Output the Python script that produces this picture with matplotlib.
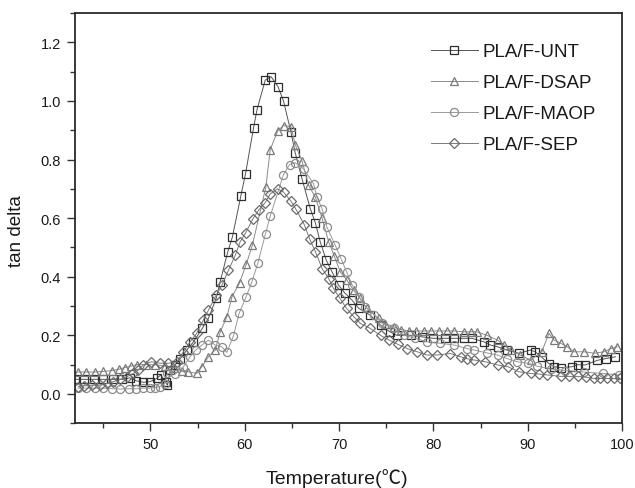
import matplotlib
matplotlib.use("Agg")
import matplotlib.pyplot as plt
from matplotlib.ticker import MultipleLocator

plt.rcParams['font.family'] = ['Liberation Sans', 'Noto Sans CJK SC', 'DejaVu Sans']

# ---- data ----
unt_x = [42.0, 43.0, 44.0, 45.0, 46.0, 47.0, 47.8, 48.5, 49.25, 49.96, 50.67, 51.1, 51.6, 51.8, 52.1, 52.6,
         53.15, 53.86, 54.56, 55.5, 56.15, 56.97, 57.39, 58.2, 58.7, 59.59, 60.08, 60.93, 61.29, 62.17, 62.78,
         63.52, 64.11, 64.9, 65.35, 66.07, 66.95, 67.48, 68.0, 68.65, 69.25, 69.95, 70.6, 71.37, 72.1, 73.3,
         74.4, 75.4, 76.15, 77.6, 78.8, 80.0, 81.2, 82.2, 83.2, 84.1, 85.35, 86.05, 86.8, 87.8, 89.06, 90.3,
         90.8, 91.5, 92.25, 92.8, 93.5, 94.7, 95.3, 96.1, 97.4, 98.3, 99.3]
unt_y = [0.05, 0.05, 0.05, 0.05, 0.05, 0.05, 0.055, 0.045, 0.04, 0.042, 0.053, 0.065, 0.04, 0.03, 0.082, 0.1,
         0.12, 0.15, 0.178, 0.224, 0.258, 0.326, 0.383, 0.485, 0.537, 0.677, 0.751, 0.908, 0.969, 1.071, 1.083,
         1.049, 1.0, 0.893, 0.823, 0.734, 0.632, 0.585, 0.519, 0.456, 0.417, 0.371, 0.345, 0.32, 0.292, 0.269,
         0.235, 0.212, 0.2, 0.2, 0.195, 0.19, 0.19, 0.19, 0.19, 0.19, 0.178, 0.167, 0.161, 0.15, 0.139, 0.15,
         0.144, 0.125, 0.104, 0.093, 0.09, 0.093, 0.1, 0.099, 0.115, 0.121, 0.127]

dsap_x = [42.3, 43.2, 44.1, 45.0, 45.9, 46.7, 47.3, 47.9, 48.6, 49.5, 50.5, 51.5, 52.5, 53.3, 54.0, 54.9,
          55.45, 56.15, 56.86, 57.4, 58.1, 58.65, 59.45, 60.15, 60.8, 62.24, 62.7, 63.52, 64.11, 64.9, 65.35,
          66.07, 66.77, 67.48, 68.2, 68.9, 69.5, 70.13, 70.8, 71.55, 72.25, 72.97, 74.2, 74.9, 75.8, 76.6,
          77.4, 78.2, 79.0, 79.8, 80.6, 81.4, 82.2, 83.2, 84.0, 84.6, 85.7, 86.8, 87.5, 88.2, 89.2, 90.3,
          91.5, 92.25, 92.8, 93.5, 94.2, 94.9, 96.0, 97.1, 98.1, 98.8, 99.5]
dsap_y = [0.075, 0.075, 0.075, 0.077, 0.08, 0.085, 0.09, 0.095, 0.1, 0.1, 0.1, 0.095, 0.09, 0.08, 0.076, 0.07,
          0.093, 0.127, 0.15, 0.212, 0.263, 0.332, 0.379, 0.442, 0.507, 0.706, 0.834, 0.899, 0.916, 0.912, 0.851,
          0.795, 0.712, 0.672, 0.6, 0.519, 0.47, 0.417, 0.39, 0.354, 0.326, 0.292, 0.258, 0.24, 0.229, 0.22,
          0.215, 0.215, 0.215, 0.215, 0.215, 0.215, 0.215, 0.212, 0.212, 0.212, 0.2, 0.184, 0.167, 0.15, 0.133, 0.116,
          0.144, 0.207, 0.184, 0.173, 0.161, 0.144, 0.144, 0.139, 0.144, 0.155, 0.161]

maop_x = [42.3, 43.2, 44.1, 45.0, 45.9, 46.8, 47.7, 48.5, 49.2, 49.9, 50.5, 51.0, 51.5, 51.8, 52.6, 53.5,
          54.2, 54.8, 55.45, 56.15, 56.86, 57.57, 58.1, 58.8, 59.4, 60.15, 60.76, 61.4, 62.2, 62.7, 64.1,
          64.75, 65.35, 66.24, 67.3, 67.65, 68.2, 68.7, 69.6, 70.2, 70.8, 71.4, 72.1, 72.8, 73.7, 74.6, 75.8,
          76.9, 78.1, 79.3, 80.7, 82.2, 83.6, 84.3, 85.7, 86.8, 87.8, 88.9, 90.0, 91.0, 92.5, 94.0, 96.0,
          98.0, 99.7]
maop_y = [0.02, 0.02, 0.02, 0.02, 0.018, 0.017, 0.018, 0.018, 0.02, 0.02, 0.022, 0.025, 0.035, 0.07, 0.067, 0.093,
          0.127, 0.15, 0.167, 0.184, 0.167, 0.161, 0.142, 0.198, 0.275, 0.332, 0.383, 0.448, 0.547, 0.607, 0.748,
          0.783, 0.789, 0.768, 0.717, 0.672, 0.632, 0.57, 0.507, 0.462, 0.417, 0.371, 0.332, 0.298, 0.27, 0.241, 0.224,
          0.2, 0.19, 0.178, 0.173, 0.167, 0.155, 0.15, 0.14, 0.133, 0.121, 0.11, 0.105, 0.095, 0.085, 0.08, 0.075,
          0.07, 0.065]

sep_x = [42.35, 43.0, 43.8, 44.65, 45.4, 46.07, 46.8, 47.5, 48.2, 48.7, 49.25, 50.1, 51.0, 51.9, 52.8, 53.5,
         54.2, 54.9, 55.6, 56.15, 56.97, 57.57, 58.27, 58.99, 59.5, 60.1, 60.87, 61.46, 62.17, 62.7, 63.48,
         64.11, 64.9, 65.43, 66.31, 66.87, 67.5, 68.2, 68.9, 69.4, 70.1, 70.8, 71.55, 72.25, 73.3, 74.4, 75.3,
         76.2, 77.2, 78.3, 79.3, 80.4, 81.8, 82.9, 83.6, 84.3, 85.5, 86.8, 87.9, 89.06, 90.3, 91.2, 92.1,
         93.5, 94.4, 95.3, 96.2, 97.0, 97.7, 98.4, 99.1, 99.8]
sep_y = [0.025, 0.028, 0.03, 0.031, 0.036, 0.042, 0.05, 0.059, 0.07, 0.082, 0.099, 0.11, 0.105, 0.105, 0.11, 0.144,
         0.178, 0.207, 0.252, 0.286, 0.337, 0.371, 0.422, 0.473, 0.519, 0.55, 0.598, 0.627, 0.653, 0.683, 0.7,
         0.689, 0.658, 0.63, 0.578, 0.53, 0.485, 0.428, 0.394, 0.36, 0.326, 0.292, 0.264, 0.241, 0.224, 0.2, 0.184,
         0.17, 0.155, 0.144, 0.133, 0.133, 0.138, 0.127, 0.12, 0.116, 0.11, 0.099, 0.093, 0.076, 0.07, 0.068, 0.065,
         0.06, 0.06, 0.06, 0.057, 0.053, 0.053, 0.053, 0.053, 0.053]

labels = ["PLA/F-UNT", "PLA/F-DSAP", "PLA/F-MAOP", "PLA/F-SEP"]
xlabel = "Temperature(\u2103)"
ylabel = "tan delta"

# ---- figure ----
fig = plt.figure(figsize=(6.35, 4.89), dpi=100)
ax = fig.add_axes([75/635, 1-424.3/489, 547/635, 410.3/489])

series = [
    (unt_x, unt_y, 's', '#2e2e2e', '#555555', 5.6),
    (dsap_x, dsap_y, '^', '#7a7a7a', '#8a8a8a', 6.2),
    (maop_x, maop_y, 'o', '#8c8c8c', '#9a9a9a', 5.8),
    (sep_x, sep_y, 'D', '#6a6a6a', '#7a7a7a', 5.2),
]
handles = []
for (xs, ys, m, mc, lc, ms), lab in zip(series, labels):
    h, = ax.plot(xs, ys, color=lc, lw=0.7, marker=m, ms=ms, mfc='none', mec=mc, mew=0.9, label=lab)
    handles.append(h)

ax.set_xlim(42, 100)
ax.set_ylim(-0.1, 1.3)
ax.xaxis.set_minor_locator(MultipleLocator(5))
ax.yaxis.set_minor_locator(MultipleLocator(0.1))
ax.set_yticks([0.0, 0.2, 0.4, 0.6, 0.8, 1.0, 1.2])
ax.set_yticklabels(["0.0", "0.2", "0.4", "0.6", "0.8", "1.0", "1.2"])
ax.set_xticks([50, 60, 70, 80, 90, 100])
ax.set_xticklabels(["50", "60", "70", "80", "90", "100"])

ax.tick_params(which='major', direction='out', length=6, width=1.0, color='#333333',
               labelsize=10.5, labelcolor='#1a1a1a', pad=4)
ax.tick_params(which='minor', direction='out', length=3.5, width=1.0, color='#333333')
ax.tick_params(top=False, right=False)
for sp in ax.spines.values():
    sp.set_color('#2a2a2a')
    sp.set_linewidth(1.3)

ax.set_xlabel(xlabel, fontsize=14, color='#1a1a1a')
ax.set_ylabel(ylabel, fontsize=13.5, color='#1a1a1a')
ax.xaxis.set_label_coords(0.479, -0.110)
ax.yaxis.set_label_coords(-0.092, 0.47)

leg = ax.legend(handles=handles, loc='upper left', bbox_to_anchor=(431/635, 1-44/489),
                bbox_transform=fig.transFigure, frameon=False, fontsize=13.5,
                handlelength=2.5, handletextpad=0.25, labelspacing=0.74, borderpad=0,
                borderaxespad=0, numpoints=1)
for t in leg.get_texts():
    t.set_color('#1a1a1a')

fig.savefig("out.png", dpi=100)
